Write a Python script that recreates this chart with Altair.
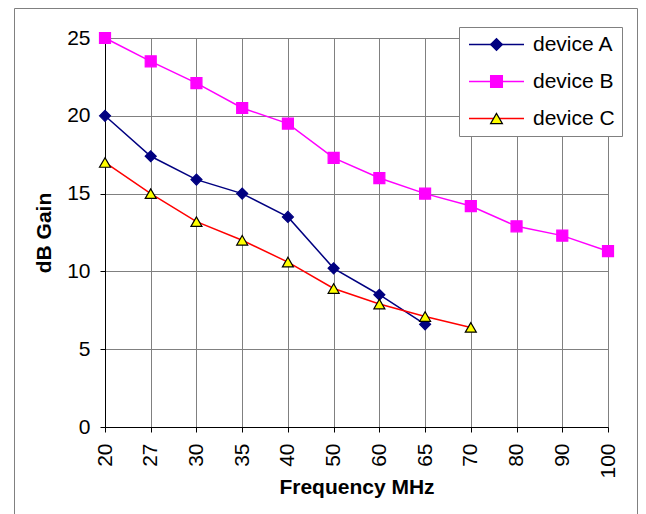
import altair as alt
import pandas as pd

# ---- data ----
freqs = ["20", "27", "30", "35", "40", "50", "60", "65", "70", "80", "90", "100"]
device_a = [20.0, 17.4, 15.9, 15.0, 13.5, 10.2, 8.5, 6.6]
device_b = [25.0, 23.5, 22.1, 20.5, 19.5, 17.3, 16.0, 15.0, 14.2, 12.9, 12.3, 11.3]
device_c = [17.0, 15.0, 13.2, 12.0, 10.6, 8.9, 7.9, 7.1, 6.4]
series_names = ["device A", "device B", "device C"]
marker_keys = ["mA", "mB", "mC"]
y_ticks = [0, 5, 10, 15, 20, 25]

# ---- styles ----
line_colors = ["#000080", "#FF00FF", "#FF0000"]
marker_shapes = ["diamond", "square", "triangle-up"]
marker_fills = ["#000080", "#FF00FF", "#FFFF00"]
marker_strokes = ["#000080", "#FF00FF", "#000000"]
FONT = "Liberation Sans"
FS = 21

rows = []
for name, key, vals in zip(series_names, marker_keys, [device_a, device_b, device_c]):
    for f, v in zip(freqs, vals):
        rows.append({"freq": f, "gain": v, "device": name, "marker": key})
df = pd.DataFrame(rows)

x_enc = alt.X(
    "freq:O",
    sort=freqs,
    scale=alt.Scale(type="point", domain=freqs, padding=0),
    axis=alt.Axis(
        title="Frequency MHz", labelAngle=-90, labelFont=FONT, labelFontSize=FS,
        labelColor="black", labelPadding=11, tickSize=5, tickColor="black",
        domainColor="black", grid=True, gridColor="#808080", titleFont=FONT,
        titleFontSize=FS, titleFontWeight="bold", titleColor="black", titlePadding=-2,
    ),
)
y_enc = alt.Y(
    "gain:Q",
    scale=alt.Scale(domain=[0, 25], nice=False),
    axis=alt.Axis(
        title="dB Gain", values=y_ticks, labelFont=FONT, labelFontSize=FS,
        labelColor="black", labelPadding=10, tickSize=5, tickColor="black",
        domainColor="black", grid=True, gridColor="#808080", titleFont=FONT,
        titleFontSize=FS, titleFontWeight="bold", titleColor="black", titlePadding=12,
    ),
)

LEG_X, LEG_Y = 354, -11
line_legend = alt.Legend(
    title=None, orient="none", legendX=LEG_X, legendY=LEG_Y,
    symbolType="M-13.75,0H13.75", symbolSize=16, symbolStrokeWidth=1.5,
    symbolOffset=20, labelOffset=26, rowPadding=15, padding=7,
    fillColor="white", strokeColor="#808080", labelFont=FONT, labelFontSize=FS,
    labelColor="black", labelLimit=300,
)
marker_legend = alt.Legend(
    title=None, orient="none", legendX=LEG_X, legendY=LEG_Y,
    symbolSize=140, symbolStrokeWidth=1.2, symbolOffset=20, labelOffset=26,
    rowPadding=15, padding=7, labelFont=FONT, labelFontSize=FS, labelExpr="''",
    labelLimit=300,
)

frame = alt.Chart(pd.DataFrame({"k": [0]})).mark_rect(
    fillOpacity=0, stroke="#808080", strokeWidth=1
).encode(x=alt.value(-90.5), x2=alt.value(532.5), y=alt.value(-29.5), y2=alt.value(490))

lines = alt.Chart(df).mark_line(strokeWidth=1.5).encode(
    x=x_enc,
    y=y_enc,
    color=alt.Color("device:N", scale=alt.Scale(domain=series_names, range=line_colors),
                    legend=line_legend),
)

points = alt.Chart(df).mark_point(opacity=1, strokeWidth=1.2, size=121).encode(
    x=x_enc,
    y=y_enc,
    shape=alt.Shape("marker:N", scale=alt.Scale(domain=marker_keys, range=marker_shapes),
                    legend=marker_legend),
    fill=alt.Fill("marker:N", scale=alt.Scale(domain=marker_keys, range=marker_fills),
                  legend=marker_legend),
    stroke=alt.Stroke("marker:N", scale=alt.Scale(domain=marker_keys, range=marker_strokes),
                      legend=marker_legend),
)

chart = alt.layer(frame, lines, points).properties(
    width=503,
    height=389,
    autosize=alt.AutoSizeParams(type="none"),
    padding={"left": 105, "top": 38, "right": 38, "bottom": 87},
    background="white",
).configure_view(strokeWidth=0)

chart.save("out.html", embed_options={"renderer": "svg", "actions": False})
